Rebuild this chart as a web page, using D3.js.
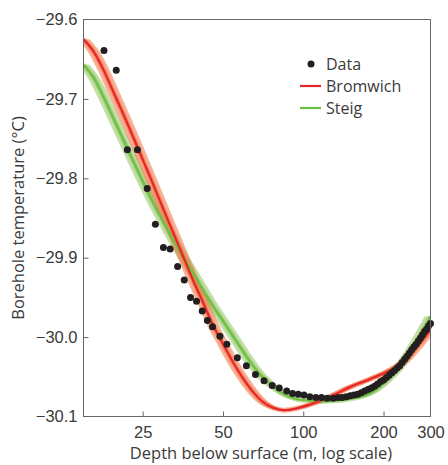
<!DOCTYPE html>
<html>
<head>
<meta charset="utf-8">
<title>Borehole temperature</title>
<style>
  body { margin: 0; background: #fff; }
  svg { display: block; font-family: 'Open Sans', sans-serif; }
  .tick text { font-size: 16.5px; fill: #3a3a3a; }
  .axis-title { font-size: 16.5px; fill: #3a3a3a; }
  .legend text { font-size: 16px; fill: #3a3a3a; }
</style>
</head>
<body>
<svg width="448" height="465"></svg>
<script src="https://cdnjs.cloudflare.com/ajax/libs/d3/7.8.5/d3.min.js"></script>
<script>
// measured borehole temperatures (depth m, temperature °C)
let dataDepth = [17.9, 19.9, 21.9, 23.9, 26.0, 27.9, 29.9, 31.7, 33.8, 35.8, 37.8, 39.8, 41.8, 43.7, 45.7, 48.7,
  51.7, 56.6, 61.2, 66.2, 71.3, 76.5, 81.3, 86.7, 91.2, 95.8, 100.6, 105.9, 111.5, 117.1, 122.9, 129.4, 135.2,
  140, 145, 150, 155, 160, 165, 170, 175, 180, 185, 190, 195, 200, 205, 210, 215, 220, 225, 230, 235,
  240, 245, 250, 255, 260, 265, 270, 275, 280, 285, 290, 295, 300]
let dataTemp = [-29.639, -29.664, -29.764, -29.764, -29.813, -29.858, -29.887, -29.889, -29.911, -29.928, -29.950, -29.955, -29.967, -29.979, -29.987, -29.999,
  -30.009, -30.026, -30.036, -30.047, -30.055, -30.061, -30.064, -30.068, -30.071, -30.072, -30.073, -30.075, -30.076, -30.076, -30.077, -30.077, -30.076,
  -30.076, -30.075, -30.074, -30.073, -30.072, -30.070, -30.068, -30.066, -30.064, -30.062, -30.059, -30.056, -30.054, -30.051, -30.048, -30.045, -30.042, -30.039, -30.036, -30.032,
  -30.028, -30.024, -30.020, -30.016, -30.012, -30.009, -30.005, -30.001, -29.997, -29.993, -29.990, -29.986, -29.983]

// model curves
let modelDepth = [15, 16.35, 17.8, 19.4, 21.2, 23.1, 25.2, 27.4, 29.9, 32.6, 35.5, 38.7, 42.2, 45.9, 50.1, 54.6,
  59.5, 64.8, 70.7, 77.0, 84.0, 93.9, 105.9, 118.5, 133.6, 149.5, 177.6, 210.9, 235.9, 266.1, 300]
let bromwich = [-29.625, -29.640, -29.663, -29.691, -29.720, -29.749, -29.779, -29.808, -29.839, -29.869, -29.899, -29.929, -29.957, -29.985, -30.009, -30.032,
  -30.052, -30.069, -30.082, -30.089, -30.092, -30.090, -30.085, -30.079, -30.071, -30.063, -30.053, -30.042, -30.032, -30.013, -29.991]
let steig = [-29.657, -29.673, -29.697, -29.724, -29.752, -29.779, -29.806, -29.831, -29.855, -29.878, -29.899, -29.920, -29.941, -29.961, -29.980, -29.999,
  -30.018, -30.036, -30.051, -30.062, -30.071, -30.078, -30.080, -30.081, -30.080, -30.078, -30.071, -30.051, -30.032, -30.005, -29.974]

let xTicks = [25, 50, 100, 200, 300]
let yTicks = [-29.6, -29.7, -29.8, -29.9, -30.0, -30.1]
let legendLabels = ["Data", "Bromwich", "Steig"]

let margin = { top: 19.5, left: 83.5, right: 430.5, bottom: 416.5 }
let svg = d3.select("svg")

let x = d3.scaleLog()
  .domain([15, 300])
  .range([margin.left, margin.right])

let y = d3.scaleLinear()
  .domain([-29.6, -30.1])
  .range([margin.top, margin.bottom])

let fmt = d => d3.format(".1f")(d).replace("-", "\u2212")

svg.append("clipPath")
  .attr("id", "plot")
  .append("rect")
  .attr("x", margin.left)
  .attr("y", margin.top)
  .attr("width", margin.right - margin.left)
  .attr("height", margin.bottom - margin.top)

let models = [
  { name: "Steig", values: steig, line: "#6abf45", band: "#93c561" },
  { name: "Bromwich", values: bromwich, line: "#e8242b", band: "#f0713f" }
]

let plot = svg.append("g").attr("clip-path", "url(#plot)")

let bw = 6
let band = d3.area()
  .curve(d3.curveCatmullRom.alpha(0.5))
  .y(d => y(d[1]))
  .x0(d => x(d[0]) - bw)
  .x1(d => x(d[0]) + bw)

let line = d3.line()
  .curve(d3.curveCatmullRom.alpha(0.5))
  .x(d => x(d[0]))
  .y(d => y(d[1]))

models.forEach(m => {
  let pts = modelDepth.map((d, i) => [d, m.values[i]])
  plot.append("path")
    .attr("d", band(pts))
    .attr("fill", m.band)
    .attr("fill-opacity", 0.55)
  plot.append("path")
    .attr("d", line(pts))
    .attr("fill", "none")
    .attr("stroke", m.band)
    .attr("stroke-opacity", 0.55)
    .attr("stroke-width", 5)
})

models.forEach(m => {
  let pts = modelDepth.map((d, i) => [d, m.values[i]])
  plot.append("path")
    .attr("d", line(pts))
    .attr("fill", "none")
    .attr("stroke", m.line)
    .attr("stroke-width", 2.2)
})

svg.append("g")
  .selectAll("circle")
  .data(dataDepth.map((d, i) => [d, dataTemp[i]]))
  .join("circle")
    .attr("cx", d => x(d[0]))
    .attr("cy", d => y(d[1]))
    .attr("r", 3.5)
    .attr("fill", "#231f20")

// frame
svg.append("rect")
  .attr("x", margin.left)
  .attr("y", margin.top)
  .attr("width", margin.right - margin.left)
  .attr("height", margin.bottom - margin.top)
  .attr("fill", "none")
  .attr("stroke", "#666")
  .attr("stroke-width", 1)

let xAxis = svg.append("g")
  .attr("class", "x axis")
  .attr("transform", `translate(0,${margin.bottom})`)
  .call(d3.axisBottom(x).tickValues(xTicks).tickSize(-5).tickPadding(10).tickFormat(d3.format("d")))
xAxis.select(".domain").remove()
xAxis.selectAll(".tick line").attr("stroke", "#666")
xAxis.selectAll(".tick").filter(d => d === 300).select("line").remove()

let yAxis = svg.append("g")
  .attr("class", "y axis")
  .attr("transform", `translate(${margin.left},0)`)
  .call(d3.axisLeft(y).tickValues(yTicks).tickSize(-5).tickPadding(6).tickFormat(fmt))
yAxis.select(".domain").remove()
yAxis.selectAll(".tick line").attr("stroke", "#666")
yAxis.selectAll(".tick").filter((d, i) => i === 0 || i === yTicks.length - 1).select("line").remove()

svg.append("text")
  .attr("class", "axis-title")
  .attr("text-anchor", "middle")
  .attr("x", (margin.left + margin.right) / 2 + 4)
  .attr("y", 459)
  .text("Depth below surface (m, log scale)")

svg.append("text")
  .attr("class", "axis-title")
  .attr("text-anchor", "middle")
  .attr("transform", `translate(24,${(margin.top + margin.bottom) / 2}) rotate(-90)`)
  .text("Borehole temperature (\u00b0C)")

// legend
let legend = svg.append("g").attr("class", "legend").attr("transform", "translate(300,64)")
legendLabels.forEach((label, i) => {
  let g = legend.append("g").attr("transform", `translate(0,${i * 22})`)
  if (i === 0) {
    g.append("circle").attr("cx", 11).attr("cy", 0).attr("r", 3.5).attr("fill", "#231f20")
  } else {
    g.append("line").attr("x1", 0).attr("x2", 21).attr("y1", 0).attr("y2", 0)
      .attr("stroke", models[2 - i].line).attr("stroke-width", 2.2)
  }
  g.append("text").attr("x", 26).attr("y", 6).text(label)
})
</script>
</body>
</html>
